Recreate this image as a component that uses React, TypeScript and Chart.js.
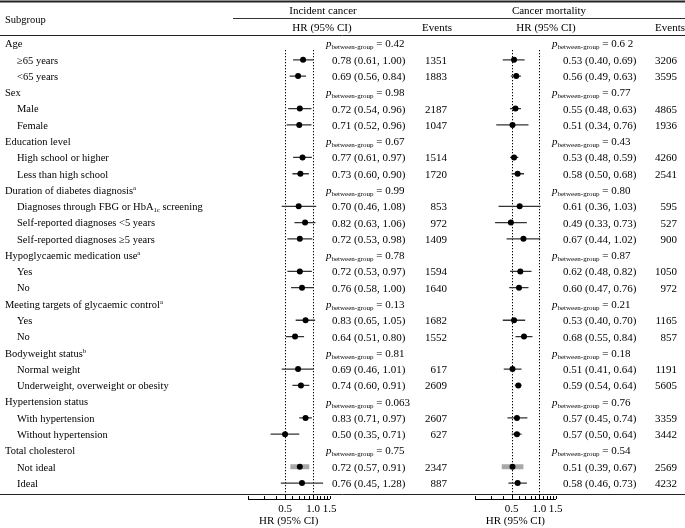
import React, { useEffect, useRef } from "react";
import { Chart, registerables } from "chart.js";
Chart.register(...registerables);

const FONT = "'Liberation Serif', 'Times New Roman', serif";
const FS = 11;
const LFS = 10.5;

// ---------- data ----------
const rowLabels: string[] = [
  "Age", "≥65 years", "<65 years",
  "Sex", "Male", "Female",
  "Education level", "High school or higher", "Less than high school",
  "Duration of diabetes diagnosis^{a}", "Diagnoses through FBG or HbA_{1c} screening", "Self-reported diagnoses <5 years", "Self-reported diagnoses ≥5 years",
  "Hypoglycaemic medication use^{a}", "Yes", "No",
  "Meeting targets of glycaemic control^{a}", "Yes", "No",
  "Bodyweight status^{b}", "Normal weight", "Underweight, overweight or obesity",
  "Hypertension status", "With hypertension", "Without hypertension",
  "Total cholesterol", "Not ideal", "Ideal",
];
const groupRows: number[] = [0, 3, 6, 9, 13, 16, 19, 22, 25];

const incHR = [null, 0.78, 0.69, null, 0.72, 0.71, null, 0.77, 0.73, null, 0.70, 0.82, 0.72, null, 0.72, 0.76, null, 0.83, 0.64, null, 0.69, 0.74, null, 0.83, 0.50, null, 0.72, 0.76];
const incLo = [null, 0.61, 0.56, null, 0.54, 0.52, null, 0.61, 0.60, null, 0.46, 0.63, 0.53, null, 0.53, 0.58, null, 0.65, 0.51, null, 0.46, 0.60, null, 0.71, 0.35, null, 0.57, 0.45];
const incHi = [null, 1.00, 0.84, null, 0.96, 0.96, null, 0.97, 0.90, null, 1.08, 1.06, 0.98, null, 0.97, 1.00, null, 1.05, 0.80, null, 1.01, 0.91, null, 0.97, 0.71, null, 0.91, 1.28];
const incEvents = [null, 1351, 1883, null, 2187, 1047, null, 1514, 1720, null, 853, 972, 1409, null, 1594, 1640, null, 1682, 1552, null, 617, 2609, null, 2607, 627, null, 2347, 887];
const incP = ["0.42", "0.98", "0.67", "0.99", "0.78", "0.13", "0.81", "0.063", "0.75"];

const morHR = [null, 0.53, 0.56, null, 0.55, 0.51, null, 0.53, 0.58, null, 0.61, 0.49, 0.67, null, 0.62, 0.60, null, 0.53, 0.68, null, 0.51, 0.59, null, 0.57, 0.57, null, 0.51, 0.58];
const morLo = [null, 0.40, 0.49, null, 0.48, 0.34, null, 0.48, 0.50, null, 0.36, 0.33, 0.44, null, 0.48, 0.47, null, 0.40, 0.55, null, 0.41, 0.54, null, 0.45, 0.50, null, 0.39, 0.46];
const morHi = [null, 0.69, 0.63, null, 0.63, 0.76, null, 0.59, 0.68, null, 1.03, 0.73, 1.02, null, 0.82, 0.76, null, 0.70, 0.84, null, 0.64, 0.64, null, 0.74, 0.64, null, 0.67, 0.73];
const morEvents = [null, 3206, 3595, null, 4865, 1936, null, 4260, 2541, null, 595, 527, 900, null, 1050, 972, null, 1165, 857, null, 1191, 5605, null, 3359, 3442, null, 2569, 4232];
const morP = ["0.6 2", "0.77", "0.43", "0.80", "0.87", "0.21", "0.18", "0.76", "0.54"];

const axisTickValues = [0.2, 0.3, 0.4, 0.5, 0.6, 0.7, 0.8, 0.9, 1.0, 1.1, 1.2, 1.3, 1.4, 1.5];
const axisLabelValues = [0.5, 1.0, 1.5];
const axisLabels = ["0.5", "1.0", "1.5"];
const refLines = [0.5, 1.0];
const axisTitle = "HR (95% CI)";

// ---------- layout ----------
const W = 685, H = 528;
const R0 = 43.5, RS = 16.28;
const AREA_TOP = 36, AXIS_Y = 499;
const highlightRow = 26;

type Seg = { t: string; k: "n" | "i" | "sub" | "sup" };

function parseRich(s: string): Seg[] {
  const segs: Seg[] = [];
  const re = /\^\{([^}]*)\}|_\{([^}]*)\}/g;
  let last = 0;
  let m: RegExpExecArray | null;
  while ((m = re.exec(s))) {
    if (m.index > last) segs.push({ t: s.slice(last, m.index), k: "n" });
    if (m[1] !== undefined) segs.push({ t: m[1], k: "sup" });
    else segs.push({ t: m[2], k: "sub" });
    last = re.lastIndex;
  }
  if (last < s.length) segs.push({ t: s.slice(last), k: "n" });
  return segs;
}

function segFont(k: Seg["k"], size: number) {
  if (k === "n") return `${size}px ${FONT}`;
  if (k === "i") return `italic ${size}px ${FONT}`;
  return `${(size * 0.64).toFixed(1)}px ${FONT}`;
}
function segDy(k: Seg["k"], size: number) {
  if (k === "sup") return -size * 0.36;
  if (k === "sub") return size * 0.18;
  return 0;
}

function drawRich(ctx: CanvasRenderingContext2D, segs: Seg[], x: number, yc: number, align: "left" | "center" | "right", size = FS) {
  ctx.textAlign = "left";
  ctx.textBaseline = "alphabetic";
  let w = 0;
  for (const s of segs) {
    ctx.font = segFont(s.k, size);
    w += ctx.measureText(s.t).width;
  }
  let cx = align === "center" ? x - w / 2 : align === "right" ? x - w : x;
  const base = yc + size * 0.36;
  for (const s of segs) {
    ctx.font = segFont(s.k, size);
    ctx.fillText(s.t, cx, base + segDy(s.k, size));
    cx += ctx.measureText(s.t).width;
  }
}

function pSegs(p: string): Seg[] {
  return [
    { t: "p", k: "i" },
    { t: "between-group", k: "sub" },
    { t: " = " + p, k: "n" },
  ];
}

const fmt = (v: number) => v.toFixed(2);

function hline(ctx: CanvasRenderingContext2D, x0: number, x1: number, y: number, w: number, color = "#000") {
  ctx.save();
  ctx.strokeStyle = color;
  ctx.lineWidth = w;
  ctx.beginPath();
  ctx.moveTo(x0, y);
  ctx.lineTo(x1, y);
  ctx.stroke();
  ctx.restore();
}

const rowY = (i: number) => R0 + i * RS;

function drawSide(ctx: CanvasRenderingContext2D, hr: (number | null)[], lo: (number | null)[], hi: (number | null)[], ev: (number | null)[], pv: string[], pX: number, valX: number, evRight: number) {
  rowLabels.forEach((_, i) => {
    const y = rowY(i);
    const g = groupRows.indexOf(i);
    if (g >= 0) {
      drawRich(ctx, pSegs(pv[g]), pX, y, "left");
    } else if (hr[i] != null) {
      drawRich(ctx, [{ t: `${fmt(hr[i] as number)} (${fmt(lo[i] as number)}, ${fmt(hi[i] as number)})`, k: "n" }], valX, y, "left");
      drawRich(ctx, [{ t: String(ev[i]), k: "n" }], evRight, y, "right");
    }
  });
}

const tablePlugin = {
  id: "tableText",
  afterDraw(chart: any) {
    const ctx: CanvasRenderingContext2D = chart.ctx;
    ctx.save();
    ctx.fillStyle = "#000";
    // rules
    hline(ctx, 0, W, 1.5, 2, "#222");
    hline(ctx, 233, W, 18.5, 1, "#333");
    hline(ctx, 0, W, 35.5, 1, "#222");
    hline(ctx, 0, W, 494.5, 1, "#222");
    // headers
    drawRich(ctx, [{ t: "Subgroup", k: "n" }], 5, 19, "left", LFS);
    drawRich(ctx, [{ t: "Incident cancer", k: "n" }], 323, 10, "center");
    drawRich(ctx, [{ t: "HR (95% CI)", k: "n" }], 322, 27, "center");
    drawRich(ctx, [{ t: "Events", k: "n" }], 437, 27, "center");
    drawRich(ctx, [{ t: "Cancer mortality", k: "n" }], 549, 10, "center");
    drawRich(ctx, [{ t: "HR (95% CI)", k: "n" }], 546, 27, "center");
    drawRich(ctx, [{ t: "Events", k: "n" }], 670, 27, "center");
    // subgroup labels
    rowLabels.forEach((lab, i) => {
      const isGroup = groupRows.indexOf(i) >= 0;
      drawRich(ctx, parseRich(lab), isGroup ? 5 : 17, rowY(i), "left", LFS);
    });
    drawSide(ctx, incHR, incLo, incHi, incEvents, incP, 326, 332, 447);
    drawSide(ctx, morHR, morLo, morHi, morEvents, morP, 552, 563, 677);
    ctx.restore();
  },
};

const forestDecor = {
  id: "forestDecor",
  beforeDatasetsDraw(chart: any) {
    const ctx: CanvasRenderingContext2D = chart.ctx;
    const xs = chart.scales.x;
    ctx.save();
    ctx.strokeStyle = "#000";
    ctx.lineWidth = 1;
    ctx.setLineDash([1.3, 1.7]);
    for (const v of refLines) {
      const x = Math.round(xs.getPixelForValue(v)) + 0.5;
      ctx.beginPath();
      ctx.moveTo(x, 50);
      ctx.lineTo(x, AXIS_Y);
      ctx.stroke();
    }
    ctx.setLineDash([]);
    for (const v of axisTickValues) {
      const x = Math.round(xs.getPixelForValue(v)) + 0.5;
      const major = refLines.some((a) => Math.abs(a - v) < 1e-9);
      ctx.beginPath();
      ctx.moveTo(x, AXIS_Y);
      ctx.lineTo(x, AXIS_Y - (major ? 5 : 3));
      ctx.stroke();
    }
    ctx.restore();
  },
};

function forestConfig(hr: (number | null)[], lo: (number | null)[], hi: (number | null)[], x0: number, x1: number, plugins: any[]): any {
  const pts: { x: number; y: number }[] = [];
  const whiskers: any[] = [];
  hr.forEach((v, i) => {
    if (v == null) return;
    pts.push({ x: v, y: i });
    const hl = i === highlightRow;
    whiskers.push({
      type: "line",
      data: [
        { x: lo[i], y: i },
        { x: hi[i], y: i },
      ],
      borderColor: hl ? "#a8a8a8" : "#333",
      borderWidth: hl ? 5 : 1.3,
      pointRadius: 0,
      order: 2,
    });
  });
  return {
    type: "scatter",
    data: {
      datasets: [
        {
          data: pts,
          backgroundColor: "#000",
          borderColor: "#000",
          borderWidth: 0,
          pointRadius: 3,
          order: 1,
        },
        ...whiskers,
      ],
    },
    options: {
      responsive: false,
      animation: false,
      events: [],
      layout: { padding: { left: x0, right: W - x1, top: AREA_TOP, bottom: 0 } },
      plugins: { legend: { display: false }, tooltip: { enabled: false }, title: { display: false } },
      scales: {
        x: {
          type: "logarithmic",
          min: axisTickValues[0],
          max: axisTickValues[axisTickValues.length - 1],
          afterBuildTicks: (scale: any) => {
            scale.ticks = axisTickValues.map((v) => ({ value: v }));
          },
          afterFit: (scale: any) => {
            scale.height = H - AXIS_Y;
          },
          grid: { display: false },
          border: { display: true, color: "#000", width: 1 },
          ticks: {
            autoSkip: false,
            maxRotation: 0,
            padding: -4,
            color: "#000",
            font: { family: FONT, size: FS },
            callback: (v: any) => {
              const k = axisLabelValues.findIndex((a) => Math.abs(a - Number(v)) < 1e-9);
              return k >= 0 ? axisLabels[k] : "";
            },
          },
          title: { display: true, text: axisTitle, color: "#000", font: { family: FONT, size: FS }, padding: { top: 0, bottom: 0 } },
        },
        y: {
          type: "linear",
          reverse: true,
          display: false,
          min: (AREA_TOP - R0) / RS,
          max: (AXIS_Y - R0) / RS,
        },
      },
    },
    plugins: [forestDecor, ...plugins],
  };
}

export default function App() {
  const leftRef = useRef<HTMLCanvasElement>(null);
  const rightRef = useRef<HTMLCanvasElement>(null);
  useEffect(() => {
    const c1 = new Chart(leftRef.current as HTMLCanvasElement, forestConfig(incHR, incLo, incHi, 248, 329.5, [tablePlugin]));
    const c2 = new Chart(rightRef.current as HTMLCanvasElement, forestConfig(morHR, morLo, morHi, 475, 555.7, []));
    return () => {
      c1.destroy();
      c2.destroy();
    };
  }, []);
  return (
    <div style={{ position: "fixed", left: 0, top: 0, width: W, height: H, background: "#fff", overflow: "hidden" }}>
      <canvas ref={leftRef} width={W} height={H} style={{ position: "absolute", left: 0, top: 0, width: W, height: H }} />
      <canvas ref={rightRef} width={W} height={H} style={{ position: "absolute", left: 0, top: 0, width: W, height: H }} />
    </div>
  );
}
